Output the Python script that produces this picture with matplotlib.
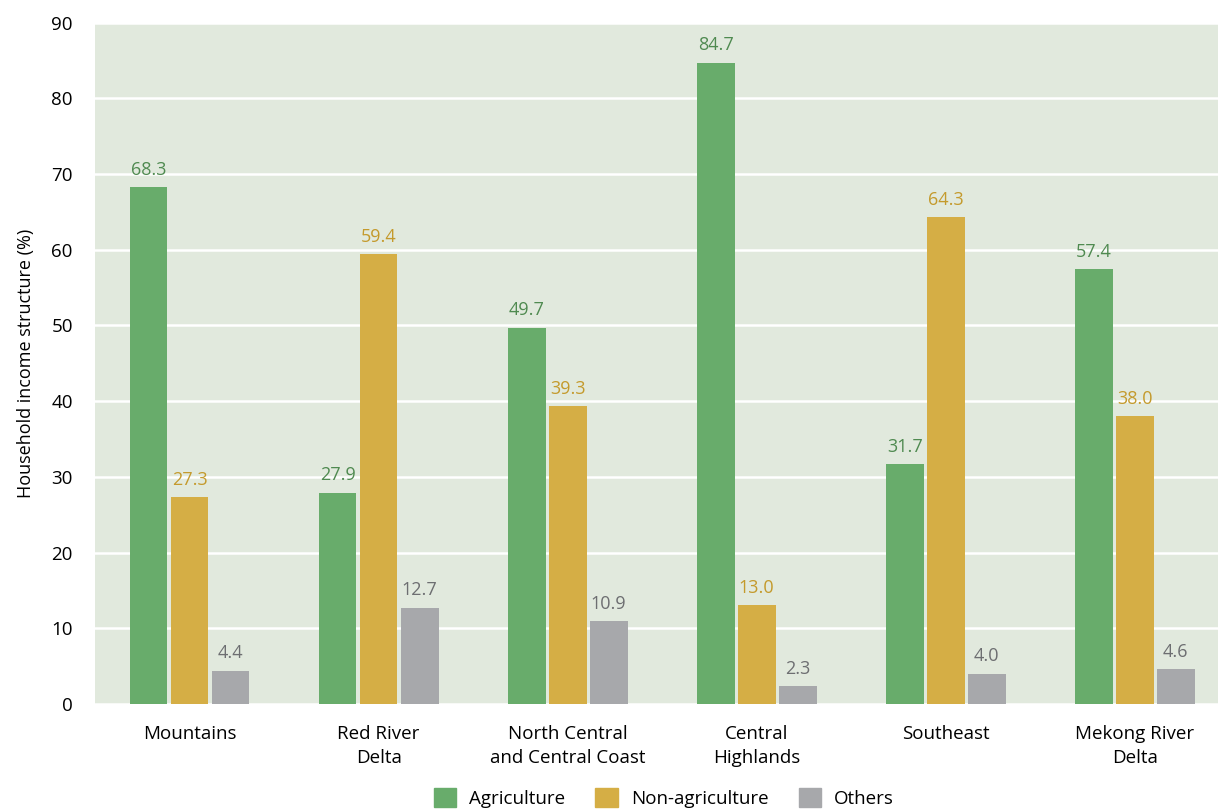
import numpy as np
import matplotlib.pyplot as plt
from matplotlib.patches import Patch

regions = ['Mountains', 'Red River\nDelta', 'North Central\nand Central Coast',
           'Central\nHighlands', 'Southeast', 'Mekong River\nDelta']
agriculture = [68.3, 27.9, 49.7, 84.7, 31.7, 57.4]
non_agriculture = [27.3, 59.4, 39.3, 13.0, 64.3, 38.0]
others = [4.4, 12.7, 10.9, 2.3, 4.0, 4.6]
series_names = ['Agriculture', 'Non-agriculture', 'Others']

bar_colors = ['#68ac6b', '#d5ae45', '#a7a8ab']
text_colors = ['#4f8a50', '#c49a2c', '#6d6e71']
bg = '#e1e9dd'

plt.rcParams['font.family'] = ['Open Sans', 'DejaVu Sans']

fig = plt.figure(figsize=(12.18, 8.10), dpi=100)
ax = fig.add_axes([0.078, 0.131, 0.922, 0.841])
ax.set_facecolor(bg)

x = np.arange(len(regions))
width = 0.2
step = 0.217
for i, vals in enumerate([agriculture, non_agriculture, others]):
    pos = x + (i - 1) * step
    ax.bar(pos, vals, width, color=bar_colors[i], zorder=3)
    for p, v in zip(pos, vals):
        ax.text(p, v + 1.1, f'{v:.1f}', ha='center', va='bottom',
                fontsize=13, color=text_colors[i], zorder=4)

ax.set_xlim(-0.5, 5.44)
ax.set_ylim(0, 90)
ax.set_yticks(range(0, 91, 10))
ax.grid(axis='y', color='white', linewidth=1.8, zorder=1)
ax.set_axisbelow(True)
for s in ax.spines.values():
    s.set_visible(False)
ax.tick_params(axis='both', length=0, labelsize=13.5)
ax.tick_params(axis='y', pad=16)
ax.tick_params(axis='x', pad=15)
ax.set_xticks(x)
ax.set_xticklabels(regions, linespacing=1.45)
ax.set_ylabel('Household income structure (%)', fontsize=13, labelpad=12)

handles = [Patch(color=c, label=n) for c, n in zip(bar_colors, series_names)]
fig.legend(handles=handles, loc='lower center', bbox_to_anchor=(0.545, -0.018),
           ncol=3, frameon=False, fontsize=13.5, handlelength=1.2,
           handleheight=1.2, columnspacing=1.6, handletextpad=0.7)

fig.savefig('out.png', dpi=100)
